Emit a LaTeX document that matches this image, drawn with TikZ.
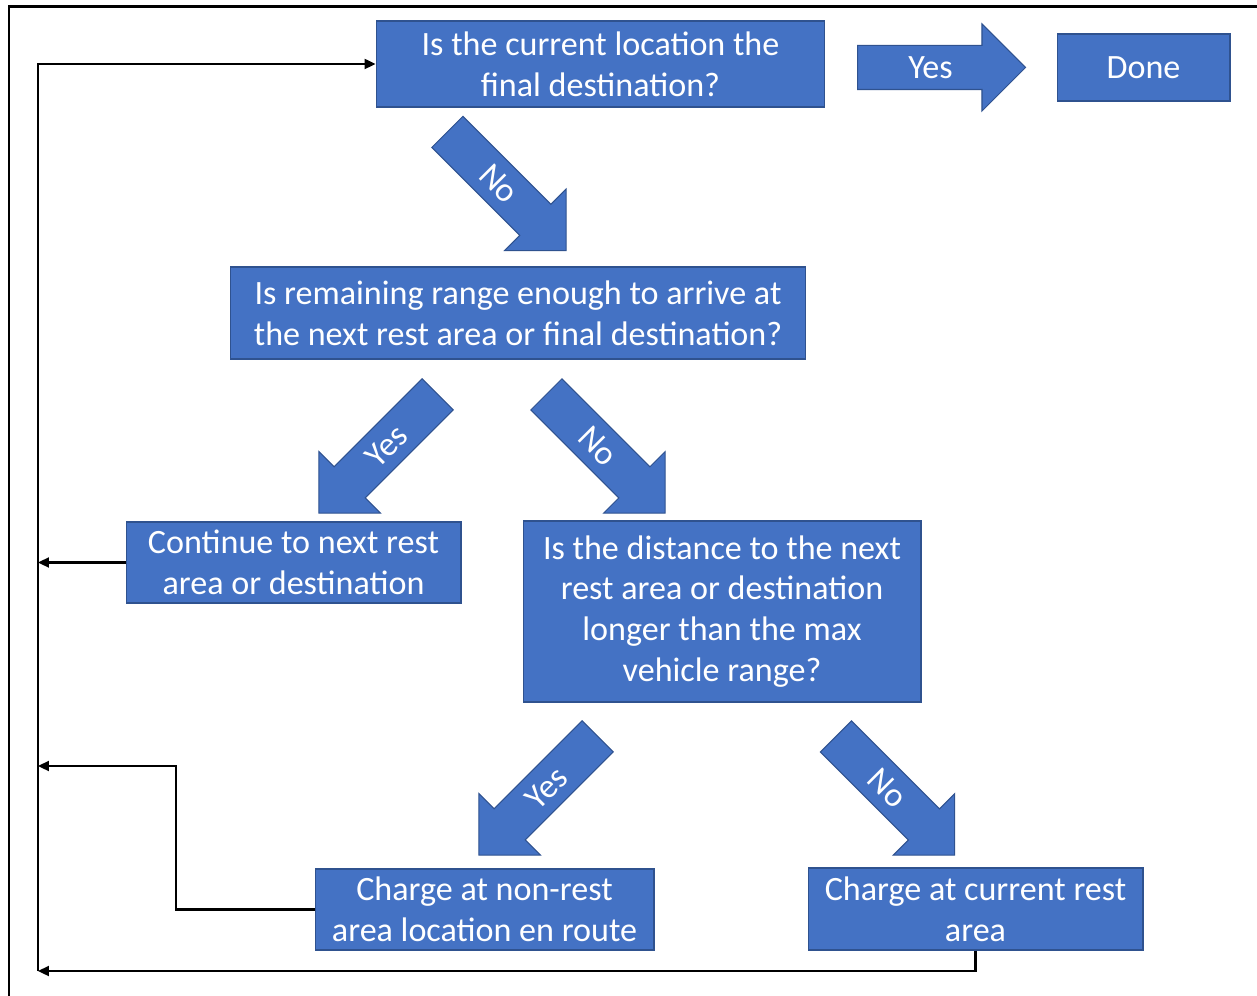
\documentclass[tikz,border=0pt]{standalone}
\usepackage{fontspec}
\setmainfont{Carlito}
\usepackage{xcolor}
\usepackage{tikz}
\usetikzlibrary{arrows.meta,shapes.arrows}
\definecolor{boxblue}{HTML}{4472C4}
\definecolor{boxline}{HTML}{2F528F}

\begin{document}
\begin{tikzpicture}[x=0.02cm, y=-0.02cm, every node/.style={font=\fontsize{19.4pt}{23.3pt}\selectfont, align=center, text=white},
  decision/.style={rectangle, draw=boxline, fill=boxblue, line width=0.6pt, inner sep=0pt},
  branch/.style={single arrow, draw=boxline, fill=boxblue, line width=0.6pt, minimum height=3.36cm, single arrow head extend=0.43cm, single arrow tip angle=90, text height=0.44cm, text depth=0pt, inner ysep=0.21cm, inner xsep=0pt, anchor=tail},
  link/.style={draw=black, line width=1.3pt, -{Triangle[length=0.22cm,width=0.2cm]}}]
\useasboundingbox (0,0) rectangle (1257,996);
\draw[line width=1.7pt] (9,1000) -- (9,7) -- (1260,7);
\node[decision, minimum width=8.98cm, minimum height=1.72cm] (final) at (600.5,64) {Is the current location the\\final destination?};
\node[decision, minimum width=3.46cm, minimum height=1.34cm] (done) at (1143.5,67.5) {Done};
\node[decision, minimum width=11.52cm, minimum height=1.84cm] (range) at (518,313) {Is remaining range enough to arrive at\\the next rest area or final destination?};
\node[decision, minimum width=6.7cm, minimum height=1.62cm] (cont) at (293.5,562.5) {Continue to next rest\\area or destination};
\node[decision, minimum width=7.96cm, minimum height=3.62cm] (dist) at (722,611.5) {Is the distance to the next\\rest area or destination\\longer than the max\\vehicle range?};
\node[decision, minimum width=6.78cm, minimum height=1.62cm] (enroute) at (484.5,909.5) {Charge at non-rest\\area location en route};
\node[decision, minimum width=6.7cm, minimum height=1.64cm] (restarea) at (975.5,909) {Charge at current rest\\area};
% block arrows between the questions
\node[branch] (yesdone) at (857,67.5) {Yes};
\node[branch, rotate=-45] (norange) at (447,131.5) {No};
\node[branch, rotate=45, shape border rotate=180] (yescont) at (438,394) {Yes};
\node[branch, rotate=-45] (nodist) at (546,394) {No};
\node[branch, rotate=45, shape border rotate=180] (yesroute) at (598,736) {Yes};
\node[branch, rotate=-45] (norest) at (835.5,736) {No};
% return lines
\coordinate (railbot) at (38,971);
\coordinate (bend) at (176,766);
\draw[link] (restarea.south) |- (railbot);
\draw[link] (railbot) |- (final.west);
\draw[link] (cont.west) -- (cont.west -| railbot);
\draw[link] (enroute.west) -| (bend) -- (bend -| railbot);
\end{tikzpicture}
\end{document}
